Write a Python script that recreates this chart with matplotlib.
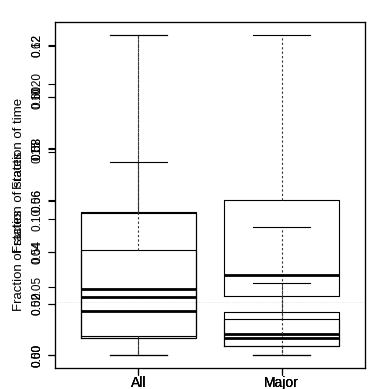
import matplotlib.pyplot as plt
from matplotlib.ticker import FormatStrFormatter

plt.rcParams.update({
    "font.family": ["Liberation Sans", "DejaVu Sans"],
    "font.size": 8.5,
})

GROUPS = ["All", "Major"]

# five-number summaries (whislo, q1, median, q3, whishi) of the overlaid boxplots
TIME_ALL = [0.0, 0.0074, 0.0256, 0.0554, 0.1243]
TIME_MAJOR = [0.0, 0.0035, 0.0081, 0.0166, 0.0499]
STATES_ALL = [0.0, 0.0125, 0.0426, 0.1044, 0.1426]
STATES_MAJOR = [0.0, 0.0434, 0.0588, 0.1140, 0.2360]
TRANS_ALL = [0.50, 0.5066, 0.5170, 0.5407, 0.6240]
TRANS_MAJOR = [0.50, 0.5035, 0.5066, 0.5139, 0.5279]

TIME_TICKS = [0.00, 0.02, 0.04, 0.06, 0.08, 0.10, 0.12]
STATES_TICKS = [0.00, 0.05, 0.10, 0.15, 0.20]
TRANS_TICKS = [0.50, 0.52, 0.54, 0.56, 0.58, 0.60, 0.62]
REF_LEVEL = 0.0205

RECT = [55 / 389, 21 / 389, 310 / 389, 346 / 389]


def stats_for(values, label):
    lo, q1, med, q3, hi = values
    return {"label": label, "whislo": lo, "q1": q1, "med": med, "q3": q3, "whishi": hi}


def draw_layer(fig, all_vals, major_vals, ticks, ylabel, label_y, first=False):
    ax = fig.add_axes(RECT, facecolor="white" if first else "none")
    line = dict(color="black", lw=0.8)
    ax.bxp([stats_for(all_vals, GROUPS[0]), stats_for(major_vals, GROUPS[1])],
           positions=[1, 2], widths=0.8, capwidths=0.4, showfliers=False,
           boxprops=line, capprops=line,
           whiskerprops=dict(color="#333333", lw=0.8, ls=(0, (2, 2))),
           medianprops=dict(color="black", lw=2.0))
    lo = min(all_vals[0], major_vals[0])
    hi = max(all_vals[-1], major_vals[-1])
    r = hi - lo
    ax.set_ylim(lo - 0.04 * r, hi + 0.04 * r)
    ax.set_xlim(0.42, 2.58)
    ax.set_yticks(ticks)
    ax.yaxis.set_major_formatter(FormatStrFormatter("%.2f"))
    ax.tick_params(axis="y", length=5, width=0.8, pad=3, labelsize=8.5, labelrotation=90)
    ax.tick_params(axis="x", length=5, width=0.8, pad=1, labelsize=10)
    for t in ax.get_yticklabels():
        t.set_va("center")
    for s in ax.spines.values():
        s.set_linewidth(0.8)
    ax.set_ylabel(ylabel, fontsize=9.5)
    ax.yaxis.set_label_coords(-0.097, label_y)
    return ax


fig = plt.figure(figsize=(3.89, 3.89), dpi=100)

ax = draw_layer(fig, TIME_ALL, TIME_MAJOR, TIME_TICKS, "Fraction of time", 0.65, first=True)
ax.axhline(REF_LEVEL, color="#dddddd", lw=0.6, ls=":", zorder=0)
draw_layer(fig, STATES_ALL, STATES_MAJOR, STATES_TICKS, "Fraction of states", 0.48)
draw_layer(fig, TRANS_ALL, TRANS_MAJOR, TRANS_TICKS, "Fraction of states", 0.31)

fig.savefig("out.png", dpi=100)
